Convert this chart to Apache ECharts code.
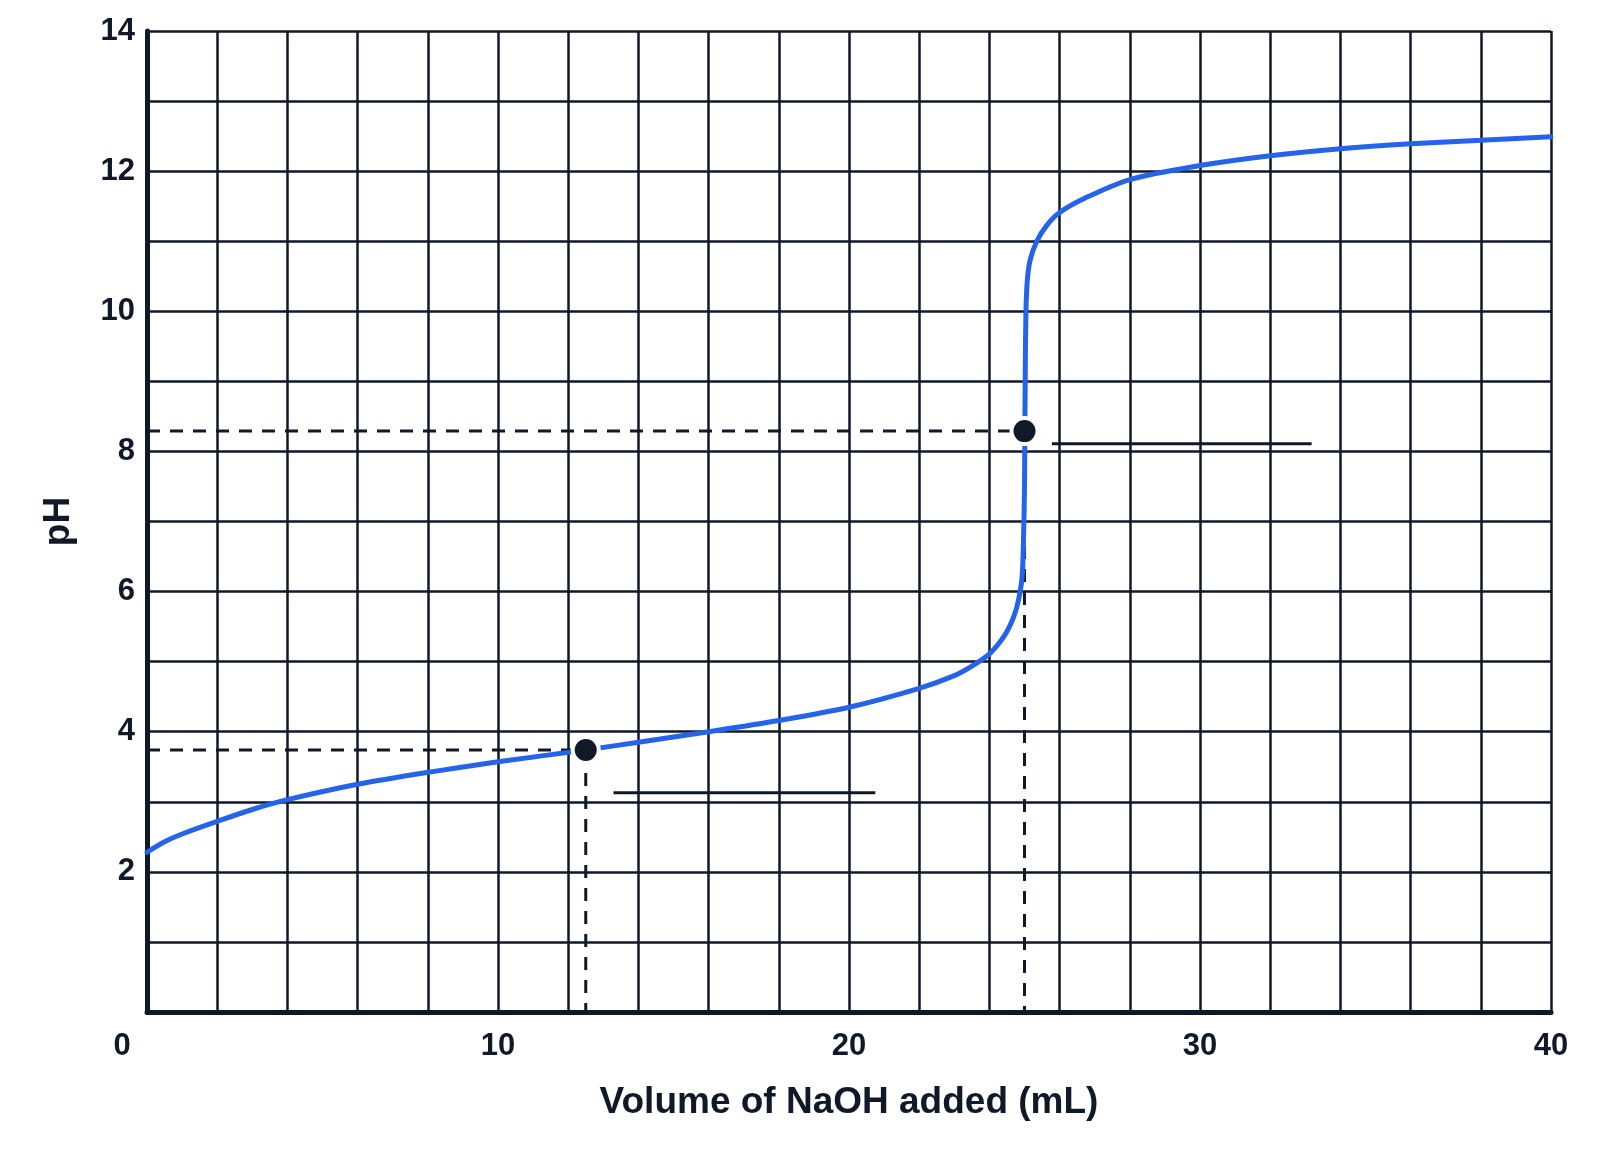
<!DOCTYPE html>
<html>
<head>
<meta charset="utf-8">
<title>Titration curve</title>
<script src="https://cdn.jsdelivr.net/npm/echarts@6/dist/echarts.min.js"></script>
<style>
  html, body { margin: 0; padding: 0; background: #fff; }
  #chart { width: 1600px; height: 1159px; }
</style>
</head>
<body>
<div id="chart"></div>
<script>
// titration curve: mL of NaOH vs pH
var volume = [0, 0.5, 1, 2, 3, 4, 6, 8, 10, 12.5, 14, 16, 18, 20, 22, 23, 23.55, 24, 24.3, 24.5, 24.7, 24.83, 24.93, 24.97, 25, 25.01, 25.02, 25.04, 25.08, 25.16, 25.35, 25.64, 26, 26.7, 28, 30, 32, 34, 36, 38, 40];
var ph = [2.28, 2.43, 2.54, 2.72, 2.89, 3.03, 3.25, 3.42, 3.57, 3.74, 3.85, 4.0, 4.16, 4.35, 4.62, 4.8, 4.95, 5.11, 5.28, 5.43, 5.65, 5.88, 6.2, 6.7, 7.5, 8.29, 9.0, 9.97, 10.44, 10.73, 11.0, 11.23, 11.41, 11.61, 11.88, 12.08, 12.22, 12.32, 12.39, 12.44, 12.49];

// marked points: half-equivalence and equivalence
var halfEq = [12.5, 3.74];
var equiv = [25, 8.29];

// blank answer lines (x from, x to, pH)
var blankLow = [13.29, 20.75, 3.13];
var blankHigh = [25.78, 33.18, 8.11];

var xLabels = [0, 10, 20, 30, 40];
var yLabels = [2, 4, 6, 8, 10, 12, 14];

var ink = '#111827';
var blue = '#2563eb';
var font = '"Liberation Sans", Arial, sans-serif';

var curve = volume.map(function (v, i) { return [v, ph[i]]; });

function guide(points, dashed) {
  return {
    type: 'line',
    data: points,
    symbol: 'none',
    silent: true,
    z: 2,
    lineStyle: { color: ink, width: 3, type: dashed ? [13, 10] : 'solid' }
  };
}

function dots(size, color, z) {
  return {
    type: 'scatter',
    data: [halfEq, equiv],
    symbol: 'circle',
    symbolSize: size,
    silent: true,
    z: z,
    itemStyle: { color: color, opacity: 1 }
  };
}

var chart = echarts.init(document.getElementById('chart'));

var option = {
  backgroundColor: '#fff',
  animation: false,
  grid: { left: 147, right: 49, top: 31, bottom: 147 },
  xAxis: {
    type: 'value',
    min: 0,
    max: 40,
    interval: 2,
    name: 'Volume of NaOH added (mL)',
    nameLocation: 'middle',
    nameGap: 72,
    nameTextStyle: { color: ink, fontSize: 37, fontWeight: 'bold', fontFamily: font },
    axisLine: { show: true, onZero: false, lineStyle: { color: ink, width: 5 } },
    axisTick: { show: false },
    axisLabel: {
      color: ink, fontSize: 31, fontWeight: 'bold', fontFamily: font, margin: 19,
      formatter: function (v) {
        if (xLabels.indexOf(v) < 0) return '';
        return v === 0 ? '{o|0}' : String(v);
      },
      rich: { o: { padding: [0, 50, 0, 0], color: ink, fontSize: 31, fontWeight: 'bold', fontFamily: font } }
    },
    splitLine: { show: true, lineStyle: { color: ink, width: 2.5 } }
  },
  yAxis: {
    type: 'value',
    min: 0,
    max: 14,
    interval: 1,
    name: 'pH',
    nameLocation: 'middle',
    nameGap: 70,
    nameTextStyle: { color: ink, fontSize: 37, fontWeight: 'bold', fontFamily: font },
    axisLine: { show: true, onZero: false, lineStyle: { color: ink, width: 5 } },
    axisTick: { show: false },
    axisLabel: {
      color: ink, fontSize: 31, fontWeight: 'bold', fontFamily: font, margin: 12,
      formatter: function (v) { return yLabels.indexOf(v) < 0 ? '' : String(v); }
    },
    splitLine: { show: true, lineStyle: { color: ink, width: 2.5 } }
  },
  series: [
    guide([[0, halfEq[1]], halfEq], true),
    guide([halfEq, [halfEq[0], 0]], true),
    guide([[0, equiv[1]], equiv], true),
    guide([equiv, [equiv[0], 0]], true),
    guide([[blankLow[0], blankLow[2]], [blankLow[1], blankLow[2]]], false),
    guide([[blankHigh[0], blankHigh[2]], [blankHigh[1], blankHigh[2]]], false),
    {
      type: 'line',
      data: curve,
      symbol: 'none',
      smooth: 0.3,
      silent: true,
      z: 3,
      lineStyle: { color: blue, width: 5, cap: 'round' }
    },
    // white halo first, then the black dot on top
    dots(30, '#ffffff', 5),
    dots(22, ink, 6)
  ]
};

chart.setOption(option);
</script>
</body>
</html>
